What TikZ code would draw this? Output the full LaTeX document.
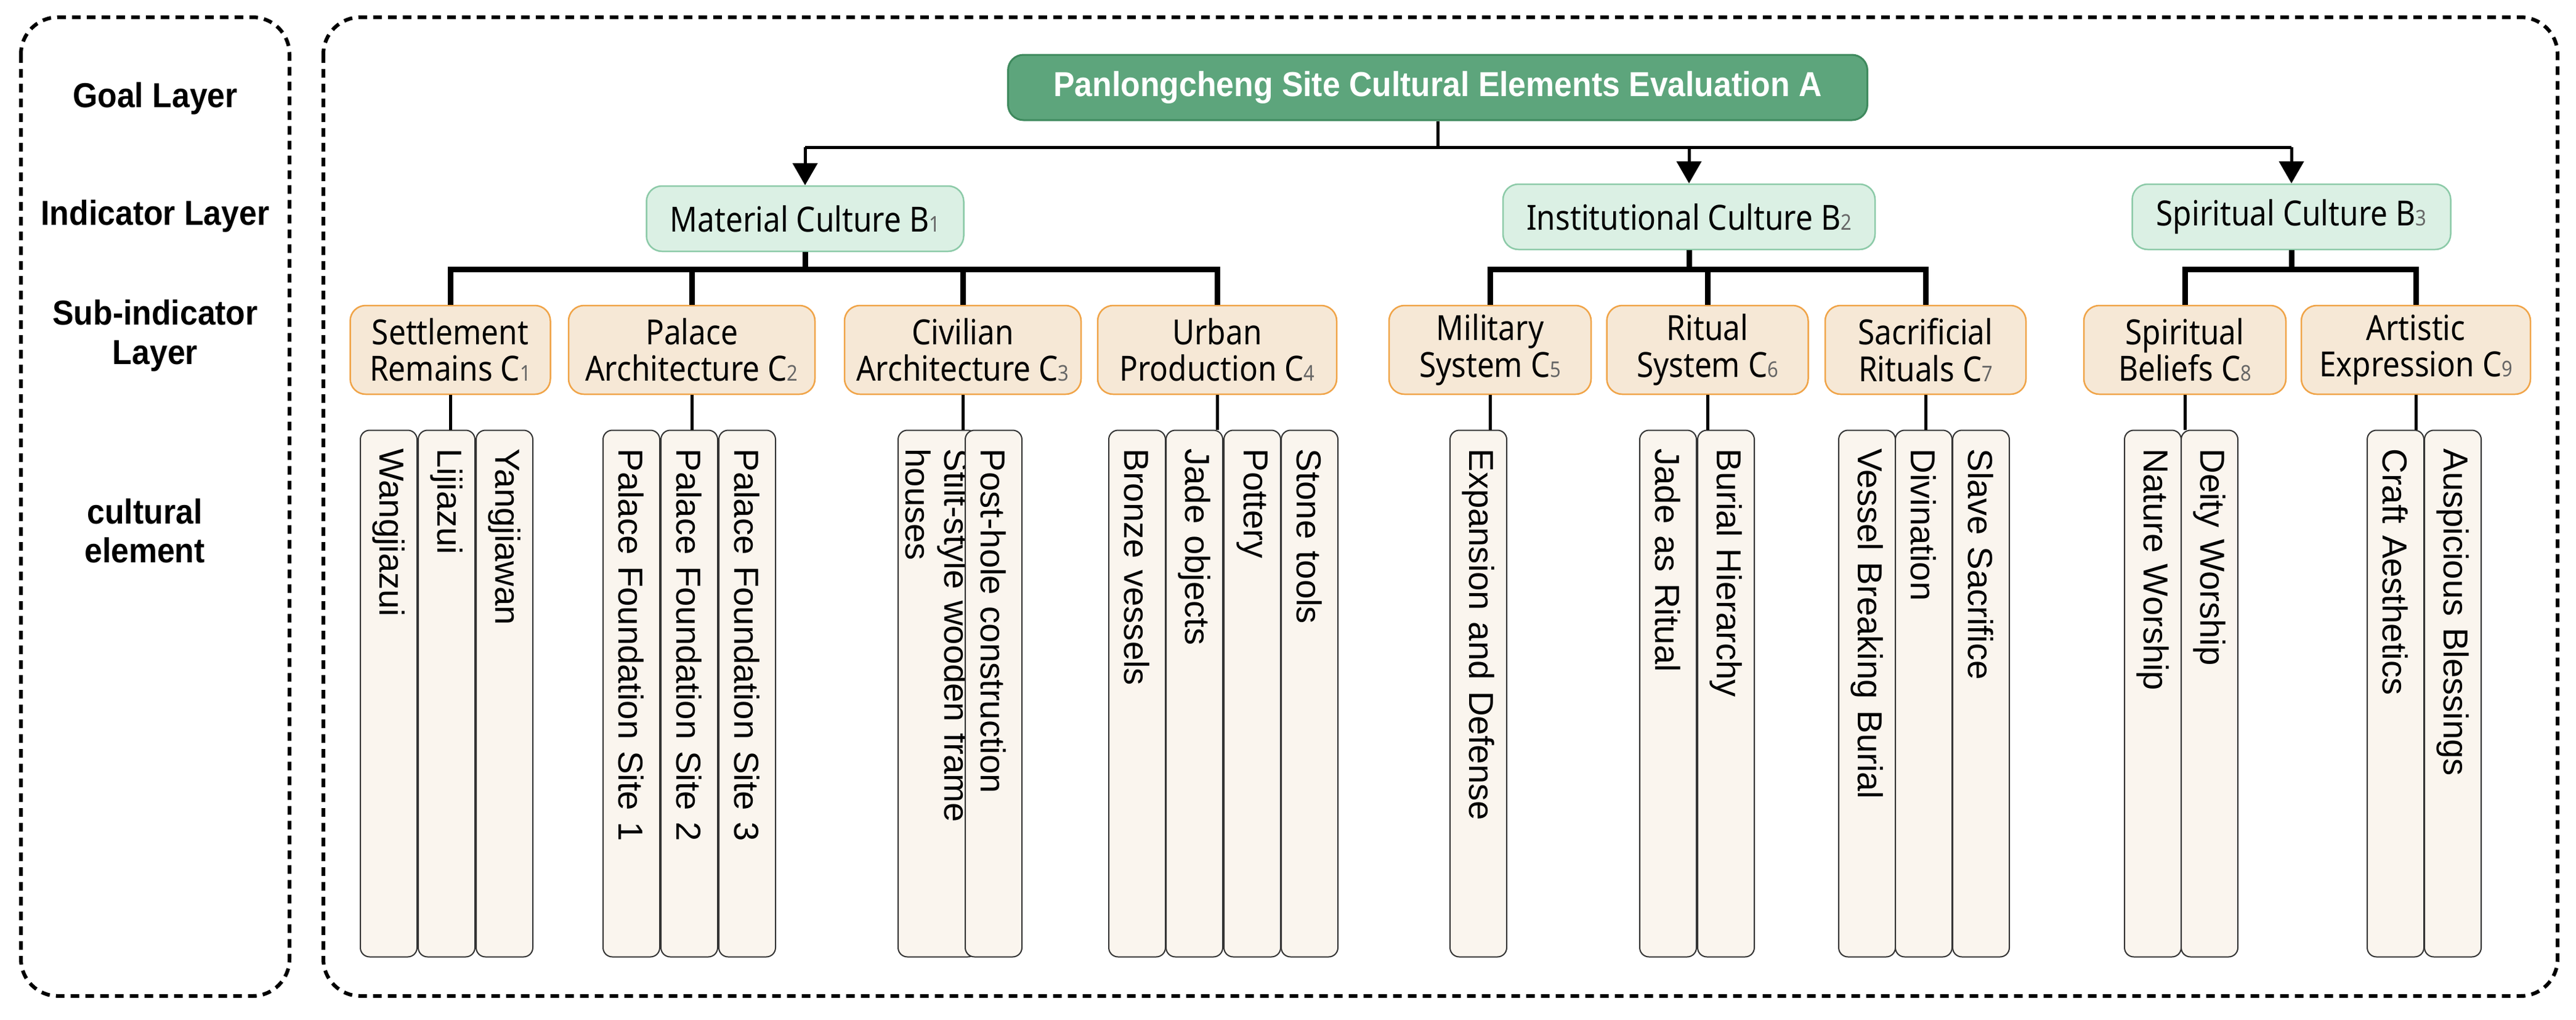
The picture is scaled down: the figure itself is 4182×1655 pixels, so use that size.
\documentclass[tikz,border=0pt]{standalone}
\usepackage{fontspec}
\setmainfont{Noto Sans}[FakeStretch=0.88]
\newfontfamily\elemfont{Liberation Sans}
\newfontfamily\boldf{Liberation Sans}[FakeStretch=0.92]
\usetikzlibrary{arrows.meta}
\definecolor{goalfill}{HTML}{5DA57C}
\definecolor{goaldraw}{HTML}{3F8A5E}
\definecolor{bfill}{HTML}{DBF0E4}
\definecolor{bdraw}{HTML}{8CCAA8}
\definecolor{cfill}{HTML}{F6E8D6}
\definecolor{cdraw}{HTML}{F0A448}
\definecolor{efill}{HTML}{FAF5EE}
\definecolor{edraw}{HTML}{333333}
\newcommand{\sbx}[1]{{\fontsize{10}{10}\selectfont\color{black!60}#1}}
\tikzset{
  x=0.1mm, y=-0.1mm,
  goal/.style={draw=goaldraw, fill=goalfill, line width=0.3mm, rounded corners=2.5mm, text=white,
    font=\boldf\fontsize{16}{18}\selectfont\bfseries, minimum width=139.5mm, minimum height=10.6mm},
  ind/.style={draw=bdraw, fill=bfill, line width=0.25mm, rounded corners=2.5mm,
    font=\fontsize{16}{18}\selectfont, minimum height=10.6mm},
  sub/.style={draw=cdraw, fill=cfill, line width=0.25mm, rounded corners=2.5mm, align=center,
    font=\fontsize{16}{17}\selectfont, minimum height=14.4mm, inner sep=0.3mm},
  elem/.style={draw=edraw, fill=efill, line width=0.2mm, rounded corners=1.5mm, rotate=-90,
    minimum width=85.5mm, minimum height=9.2mm, text width=79.5mm, align=left, inner xsep=3mm,
    font=\elemfont\fontsize{16}{18}\selectfont},
  layer/.style={font=\boldf\fontsize{16}{18}\selectfont\bfseries, align=center},
  frame/.style={line width=0.6mm, dash pattern=on 1.4mm off 1mm, rounded corners=6mm},
  thin/.style={line width=0.5mm},
  bar/.style={line width=0.9mm},
  arr/.style={line width=0.5mm, -{Triangle[width=4mm,length=3.6mm]}}
}
\begin{document}
\begin{tikzpicture}
\useasboundingbox (0,0) rectangle (4182,1655);
\draw[frame] (34,28) rectangle (470,1617);
\draw[frame] (525,28) rectangle (4152,1617);
\node[layer] (L1) at (252,160) {Goal Layer};
\node[layer] (L2) at (252,351) {Indicator Layer};
\node[layer] (L3) at (252,545) {Sub-indicator\\Layer};
\node[layer] (L4) at (235,862) {cultural\\element};

\node[goal] (A) at (2334,142) {Panlongcheng Site Cultural Elements Evaluation A};
\node[ind, minimum width=51.5mm] (B1) at (1307,355) {Material Culture B\sbx{1}};
\node[ind, minimum width=60.4mm] (B2) at (2742,352) {Institutional Culture B\sbx{2}};
\node[ind, minimum width=51.7mm] (B3) at (3720,352) {Spiritual Culture B\sbx{3}};

\coordinate (a) at (2334,239);
\draw[thin] (A.south) -- (a);
\draw[thin] (B1.north |- a) -- (B3.north |- a);
\draw[arr] (B1.north |- a) -- (B1.north);
\draw[arr] (B2.north |- a) -- (B2.north);
\draw[arr] (B3.north |- a) -- (B3.north);

\node[sub, minimum width=32.5mm] (C1) at (731,568) {Settlement\\Remains C\sbx{1}};
\node[sub, minimum width=40mm] (C2) at (1123,568) {Palace\\Architecture C\sbx{2}};
\node[sub, minimum width=38.4mm] (C3) at (1563,568) {Civilian\\Architecture C\sbx{3}};
\node[sub, minimum width=38.8mm] (C4) at (1976,568) {Urban\\Production C\sbx{4}};
\node[sub, minimum width=32.8mm] (C5) at (2419,568) {Military\\System C\sbx{5}};
\node[sub, minimum width=32.7mm] (C6) at (2772,568) {Ritual\\System C\sbx{6}};
\node[sub, minimum width=32.6mm] (C7) at (3126,568) {Sacrificial\\Rituals C\sbx{7}};
\node[sub, minimum width=32.8mm] (C8) at (3547,568) {Spiritual\\Beliefs C\sbx{8}};
\node[sub, minimum width=37.2mm] (C9) at (3922,568) {Artistic\\Expression C\sbx{9}};

\coordinate (b) at (0,437);
\draw[bar] (B1.south) -- (B1.south |- b);
\draw[bar] (C1.north) -- (C1.north |- b) -- (C4.north |- b) -- (C4.north);
\draw[bar] (C2.north) -- (C2.north |- b);
\draw[bar] (C3.north) -- (C3.north |- b);
\draw[bar] (B2.south) -- (B2.south |- b);
\draw[bar] (C5.north) -- (C5.north |- b) -- (C7.north |- b) -- (C7.north);
\draw[bar] (C6.north) -- (C6.north |- b);
\draw[bar] (B3.south) -- (B3.south |- b);
\draw[bar] (C8.north) -- (C8.north |- b) -- (C9.north |- b) -- (C9.north);

\def\ey{1126}
\node[elem] (e1) at (631,\ey) {Wangjiazui};
\node[elem] (e2) at (725,\ey) {Lijiazui};
\node[elem] (e3) at (819,\ey) {Yangjiawan};
\node[elem] (e4) at (1025,\ey) {Palace Foundation Site 1};
\node[elem] (e5) at (1119,\ey) {Palace Foundation Site 2};
\node[elem] (e6) at (1213,\ey) {Palace Foundation Site 3};
\node[elem] (e7) at (1522,\ey) {Stilt-style wooden frame houses};
\node[elem] (e8) at (1613,\ey) {Post-hole construction};
\node[elem] (e9) at (1846,\ey) {Bronze vessels};
\node[elem] (e10) at (1939,\ey) {Jade objects};
\node[elem] (e11) at (2033,\ey) {Pottery};
\node[elem] (e12) at (2126,\ey) {Stone tools};
\node[elem] (e13) at (2400,\ey) {Expansion and Defense};
\node[elem] (e14) at (2708,\ey) {Jade as Ritual};
\node[elem] (e15) at (2802,\ey) {Burial Hierarchy};
\node[elem] (e16) at (3031,\ey) {Vessel Breaking Burial};
\node[elem] (e17) at (3123,\ey) {Divination};
\node[elem] (e18) at (3216,\ey) {Slave Sacrifice};
\node[elem] (e19) at (3495,\ey) {Nature Worship};
\node[elem] (e20) at (3587,\ey) {Deity Worship};
\node[elem] (e21) at (3889,\ey) {Craft Aesthetics};
\node[elem] (e22) at (3982,\ey) {Auspicious Blessings};

\draw[thin] (C1.south) -- (C1.south |- e2.west);
\draw[thin] (C2.south) -- (C2.south |- e5.west);
\draw[thin] (C3.south) -- (C3.south |- e7.west);
\draw[thin] (C4.south) -- (C4.south |- e11.west);
\draw[thin] (C5.south) -- (C5.south |- e13.west);
\draw[thin] (C6.south) -- (C6.south |- e14.west);
\draw[thin] (C7.south) -- (C7.south |- e17.west);
\draw[thin] (C8.south) -- (C8.south |- e19.west);
\draw[thin] (C9.south) -- (C9.south |- e21.west);
\end{tikzpicture}
\end{document}
